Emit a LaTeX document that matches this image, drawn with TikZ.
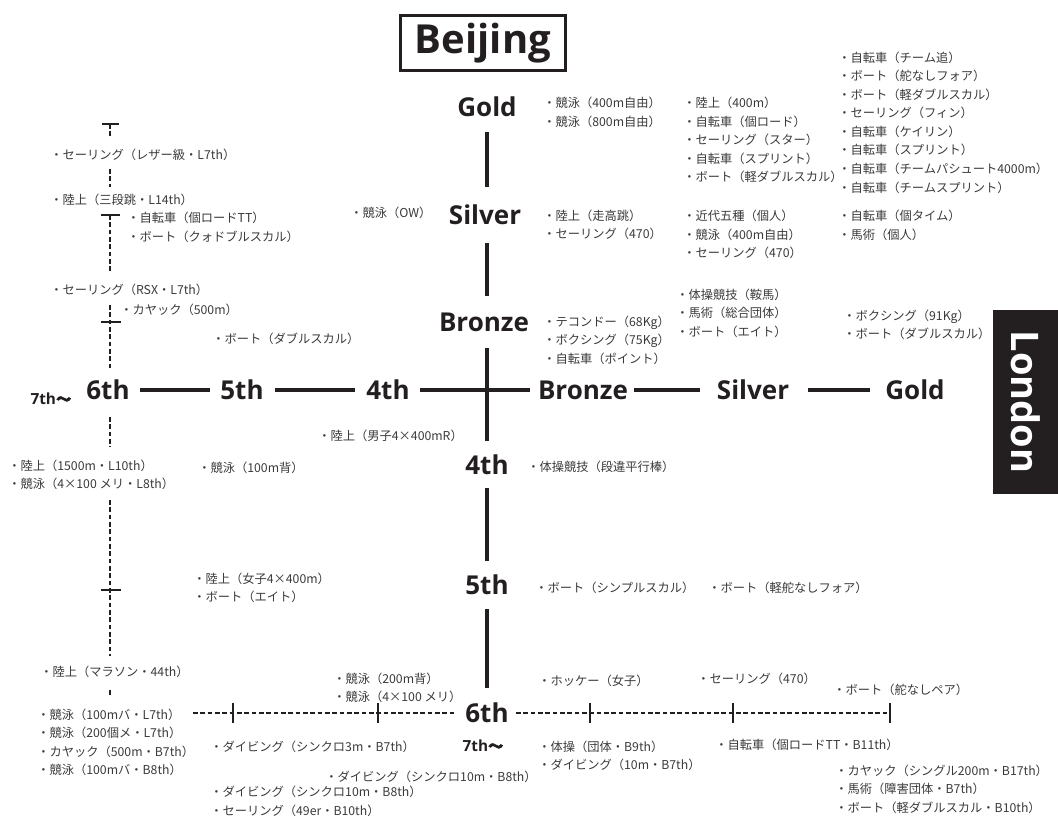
\documentclass[tikz,border=0pt]{standalone}
\usepackage{fontspec}
\setmainfont{Noto Sans CJK JP}
\newfontfamily\jp{Noto Sans CJK JP}
\newfontfamily\jpb[FakeBold=2.5]{Noto Sans CJK JP}
\newfontfamily\hd{Open Sans}
\definecolor{ink}{HTML}{231F20}
\definecolor{labc}{HTML}{3A3A3A}
\tikzset{
  lab/.style={anchor=west, font=\jp\fontsize{9.2}{13.9}\selectfont, text=labc, inner sep=0pt, align=left},
  hdl/.style={font=\hd\bfseries\fontsize{19.5}{21}\selectfont, text=ink, inner sep=0pt},
  sm/.style={font=\hd\bfseries\fontsize{11.5}{12}\selectfont, text=ink, inner sep=0pt},
  axis/.style={draw=ink, line width=3pt},
  dax/.style={draw=ink, line width=1.1pt, dash pattern=on 3.5pt off 2pt},
  tick/.style={draw=ink, line width=1.6pt},
}
\begin{document}
\begin{tikzpicture}[x=0.75pt,y=-0.75pt]
\useasboundingbox (0,0) rectangle (1058,816);
% titles
\node[draw=ink, line width=2.2pt, minimum width=124pt, minimum height=41pt, inner sep=0pt,
  font=\hd\bfseries\fontsize{30}{31}\selectfont, text=ink] (beijing) at (483,43) {Beijing};
\node[fill=ink, minimum width=49pt, minimum height=138pt, inner sep=0pt] (londonbox) at (1026,402) {};
\node[rotate=-90, font=\hd\bfseries\fontsize{28.5}{30}\selectfont, text=white] (london) at (1026,402) {London};

% vertical axis labels
\node[hdl] (vgold) at (487,107) {Gold};
\node[hdl] (vsilver) at (485,215) {Silver};
\node[hdl] (vbronze) at (484,322) {Bronze};
\node[hdl] (v4) at (487,465) {4th};
\node[hdl] (v5) at (487,585) {5th};
\node[hdl] (v6) at (487,713) {6th};
\node[sm] (v7) at (483,746) {7th{\jpb 〜}};

% horizontal axis labels
\node[sm] (h7) at (51,399) {7th{\jpb 〜}};
\node[hdl] (h6) at (108,390) {6th};
\node[hdl] (h5) at (242,390) {5th};
\node[hdl] (h4) at (388,390) {4th};
\node[hdl] (hbronze) at (583,390) {Bronze};
\node[hdl] (hsilver) at (753,390) {Silver};
\node[hdl] (hgold) at (915,390) {Gold};

% solid axis segments
\coordinate (a1) at (487,132); \coordinate (a2) at (487,187);
\coordinate (b1) at (487,243); \coordinate (b2) at (487,296);
\coordinate (c1) at (487,348); \coordinate (c2) at (487,441);
\coordinate (d1) at (487,488); \coordinate (d2) at (487,561);
\coordinate (e1) at (487,609); \coordinate (e2) at (487,688);
\draw[axis] (a1) -- (a2);
\draw[axis] (b1) -- (b2);
\draw[axis] (c1) -- (c2);
\draw[axis] (d1) -- (d2);
\draw[axis] (e1) -- (e2);
\coordinate (f1) at (140,390); \coordinate (f2) at (210,390);
\coordinate (g1) at (275,390); \coordinate (g2) at (355,390);
\coordinate (k1) at (420,390); \coordinate (k2) at (530,390);
\coordinate (m1) at (634,390); \coordinate (m2) at (700,390);
\coordinate (n1) at (808,390); \coordinate (n2) at (870,390);
\draw[axis] (f1) -- (f2);
\draw[axis] (g1) -- (g2);
\draw[axis] (k1) -- (k2);
\draw[axis] (m1) -- (m2);
\draw[axis] (n1) -- (n2);

% left dashed axis
\coordinate (l1) at (110,124); \coordinate (l2) at (110,137);
\coordinate (l3) at (110,169); \coordinate (l4) at (110,187);
\coordinate (l5) at (110,215); \coordinate (l6) at (110,271);
\coordinate (l7) at (110,305); \coordinate (l8) at (110,368);
\coordinate (l9) at (110,417); \coordinate (l10) at (110,447);
\coordinate (l11) at (110,500); \coordinate (l12) at (110,656);
\coordinate (l13) at (110,690); \coordinate (l14) at (110,697);
\draw[dax] (l1) -- (l2);
\draw[dax] (l3) -- (l4);
\draw[dax] (l5) -- (l6);
\draw[dax] (l7) -- (l8);
\draw[dax] (l9) -- (l10);
\draw[dax] (l11) -- (l12);
\draw[dax] (l13) -- (l14);
\coordinate (t1a) at (102,124); \coordinate (t1b) at (119,124);
\coordinate (t2a) at (101,215); \coordinate (t2b) at (120,215);
\coordinate (t3a) at (101,322); \coordinate (t3b) at (121,322);
\coordinate (t4a) at (101,590); \coordinate (t4b) at (121,590);
\draw[tick] (t1a) -- (t1b);
\draw[tick] (t2a) -- (t2b);
\draw[tick] (t3a) -- (t3b);
\draw[tick] (t4a) -- (t4b);

% bottom dashed axis
\coordinate (p1) at (193,713); \coordinate (p2) at (455,713);
\coordinate (p3) at (516,713); \coordinate (p4) at (890,713);
\draw[dax] (p1) -- (p2);
\draw[dax] (p3) -- (p4);
\foreach \x/\n in {233/q1,378/q2,590/q3,733/q4,890/q5}{
  \coordinate (\n a) at (\x,703); \coordinate (\n b) at (\x,723);
  \draw[tick] (\n a) -- (\n b);
}

% ---- labels: Gold row
\node[lab] (g1t) at (543,112.5) {・競泳（400m自由）\\・競泳（800m自由）};
\node[lab] (g2t) at (683,140) {・陸上（400m）\\・自転車（個ロード）\\・セーリング（スター）\\・自転車（スプリント）\\・ボート（軽ダブルスカル）};
\node[lab] (g3t) at (838,122.5) {・自転車（チーム追）\\・ボート（舵なしフォア）\\・ボート（軽ダブルスカル）\\・セーリング（フィン）\\・自転車（ケイリン）\\・自転車（スプリント）\\・自転車（チームパシュート4000m）\\・自転車（チームスプリント）};
% Silver row
\node[lab] (s0t) at (350,213) {・競泳（OW）};
\node[lab] (s1t) at (543,225) {・陸上（走高跳）\\・セーリング（470）};
\node[lab] (s2t) at (683,234.5) {・近代五種（個人）\\・競泳（400m自由）\\・セーリング（470）};
\node[lab] (s3t) at (838,225.5) {・自転車（個タイム）\\・馬術（個人）};
% Bronze row
\node[lab] (b0t) at (212,339) {・ボート（ダブルスカル）};
\node[lab] (b1t) at (543,340) {・テコンドー（68Kg）\\・ボクシング（75Kg）\\・自転車（ポイント）};
\node[lab] (b2t) at (676,313) {・体操競技（鞍馬）\\・馬術（総合団体）\\・ボート（エイト）};
\node[lab] (b3t) at (843,325) {・ボクシング（91Kg）\\・ボート（ダブルスカル）};
% left column
\node[lab] (l1t) at (50,155) {・セーリング（レザー級・L7th）};
\node[lab] (l2t) at (50,200) {・陸上（三段跳・L14th）};
\node[lab] (l3t) at (127,227.5) {・自転車（個ロードTT）\\・ボート（クォドブルスカル）};
\node[lab] (l4t) at (50,290) {・セーリング（RSX・L7th）};
\node[lab] (l5t) at (120,310) {・カヤック（500m）};
% below horizontal axis
\node[lab] (x1t) at (318,436) {・陸上（男子4×400mR）};
\node[lab] (x2t) at (8,475) {・陸上（1500m・L10th）\\・競泳（4×100 メリ・L8th）};
\node[lab] (x3t) at (198,468) {・競泳（100m背）};
\node[lab] (x4t) at (527,467) {・体操競技（段違平行棒）};
\node[lab] (x5t) at (193,588) {・陸上（女子4×400m）\\・ボート（エイト）};
\node[lab] (x6t) at (535,588) {・ボート（シンプルスカル）};
\node[lab] (x7t) at (708,588) {・ボート（軽舵なしフォア）};
% bottom area
\node[lab] (y1t) at (40,672) {・陸上（マラソン・44th）};
\node[lab] (y2t) at (333,688) {・競泳（200m背）\\・競泳（4×100 メリ）};
\node[lab] (y3t) at (538,681) {・ホッケー（女子）};
\node[lab] (y4t) at (697,679) {・セーリング（470）};
\node[lab] (y5t) at (833,690) {・ボート（舵なしペア）};
\node[lab] (y6t) at (37,742.5) {・競泳（100mバ・L7th）\\・競泳（200個メ・L7th）\\・カヤック（500m・B7th）\\・競泳（100mバ・B8th）};
\node[lab] (y7t) at (210,747) {・ダイビング（シンクロ3m・B7th）};
\node[lab] (y8t) at (325,777) {・ダイビング（シンクロ10m・B8th）};
\node[lab] (y9t) at (210,801.5) {・ダイビング（シンクロ10m・B8th）\\・セーリング（49er・B10th）};
\node[lab] (y10t) at (538,756) {・体操（団体・B9th）\\・ダイビング（10m・B7th）};
\node[lab] (y11t) at (715,745) {・自転車（個ロードTT・B11th）};
\node[lab] (y12t) at (835,789) {・カヤック（シングル200m・B17th）\\・馬術（障害団体・B7th）\\・ボート（軽ダブルスカル・B10th）};
\end{tikzpicture}
\end{document}
